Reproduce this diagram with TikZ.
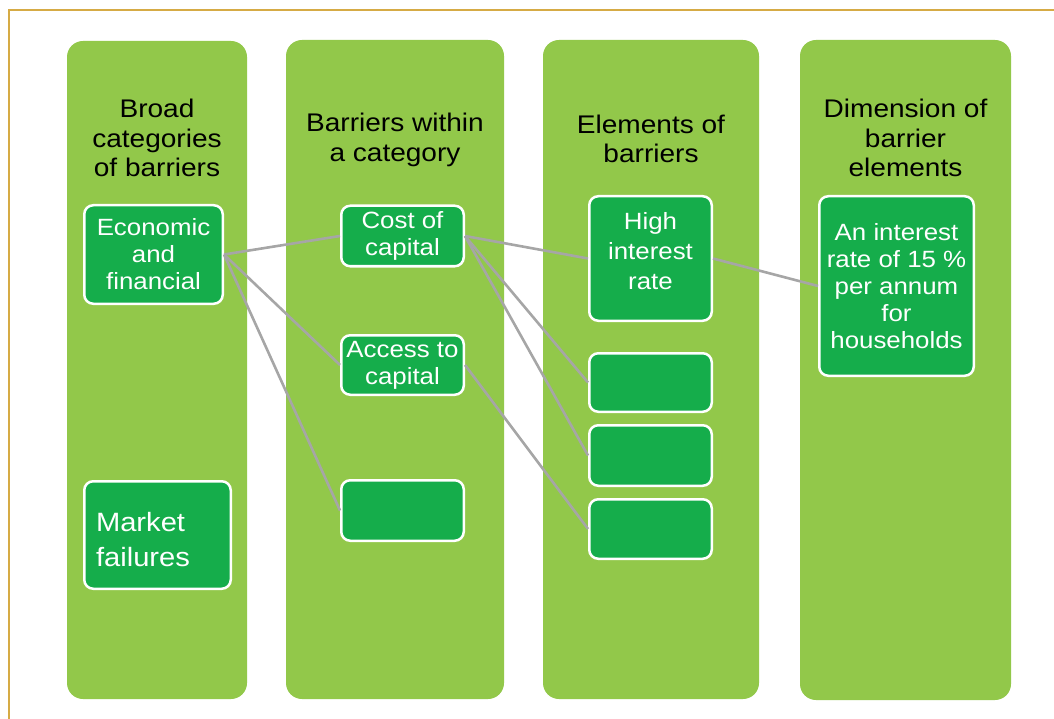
\documentclass[tikz,border=0pt]{standalone}
\usepackage{fontspec}
\setmainfont{Liberation Sans}[FakeStretch=1.1]
\definecolor{lgreen}{HTML}{92C84A}
\definecolor{dgreen}{HTML}{15AD4B}
\definecolor{goldline}{HTML}{D6AB45}
\definecolor{connc}{HTML}{A6A6A6}
\newcommand\hdfont{\fontsize{25.5}{29.5}\selectfont}
\newcommand\bxfont{\fontsize{23.5}{27}\selectfont}
\newcommand\hifont{\fontsize{23.5}{30}\selectfont}
\newcommand\mffont{\fontsize{26.5}{35}\selectfont}
\begin{document}
\begin{tikzpicture}[x=1pt,y=-1pt,
  colbox/.style={rectangle, fill=lgreen, draw=none, rounded corners=16pt, inner sep=0pt},
  gbox/.style={rectangle, fill=dgreen, draw=white, line width=2.5pt, rounded corners=9pt,
    inner sep=0pt, text=white, align=center, font=\bxfont},
  btext/.style={inner sep=0pt, text=white, align=center, font=\bxfont},
  head/.style={align=center, text=black, font=\hdfont, inner sep=0pt},
  conn/.style={draw=connc, line width=2.6pt}]
\useasboundingbox (0,0) rectangle (1054,719);
\draw[goldline, line width=2.5pt] (9,719) -- (9,10) -- (1054,10);
% columns
\node[colbox, minimum width=180pt, minimum height=658pt] (c1) at (157,370) {};
\node[colbox, minimum width=218pt, minimum height=659pt] (c2) at (395,369.5) {};
\node[colbox, minimum width=216pt, minimum height=659pt] (c3) at (651,369.5) {};
\node[colbox, minimum width=211pt, minimum height=660pt] (c4) at (905.5,370) {};
% headers
\node[head] (h1) at (157,138) {Broad\\categories\\of barriers};
\node[head] (h2) at (395,140) {Barriers within\\a category};
\node[head] (h3) at (651,139) {Elements of\\barriers};
\node[head] (h4) at (905.5,138) {Dimension of\\barrier\\elements};
% boxes
\node[gbox, minimum width=138.5pt, minimum height=98.5pt] (econ) at (153.5,254.5) {Economic\\and\\financial};
\node[gbox, minimum width=146.5pt, minimum height=107.5pt] (mf) at (157.5,535) {};
\node[btext, text width=123pt, align=left, font=\mffont] (mftxt) at (157.5,540) {Market\\failures};
\node[gbox, minimum width=122.5pt, minimum height=60.5pt] (cost) at (402.5,236) {Cost of\\capital};
\node[gbox, minimum width=122.5pt, minimum height=59.5pt] (access) at (402.5,365) {Access to\\capital};
\node[gbox, minimum width=122.5pt, minimum height=60.5pt] (e2) at (402.5,510.5) {};
\node[gbox, minimum width=122.5pt, minimum height=124.5pt] (high) at (650.5,258.5) {};
\node[btext, font=\hifont] (hightxt) at (650.5,251) {High\\interest\\rate};
\node[gbox, minimum width=122.5pt, minimum height=58.5pt] (e3a) at (650.5,382.5) {};
\node[gbox, minimum width=122.5pt, minimum height=60.5pt] (e3b) at (650.5,455.5) {};
\node[gbox, minimum width=122.5pt, minimum height=59.5pt] (e3c) at (650.5,529) {};
\node[gbox, minimum width=154.5pt, minimum height=179.5pt] (dim) at (896.5,286) {An interest\\rate of 15 \%\\per annum\\for\\households};
% connectors
\draw[conn] (econ.east) -- (cost.west);
\draw[conn] (econ.east) -- (access.west);
\draw[conn] (econ.east) -- (e2.west);
\draw[conn] (cost.east) -- (high.west);
\draw[conn] (cost.east) -- (e3a.west);
\draw[conn] (cost.east) -- (e3b.west);
\draw[conn] (access.east) -- (e3c.west);
\draw[conn] (high.east) -- (dim.west);
\end{tikzpicture}
\end{document}
